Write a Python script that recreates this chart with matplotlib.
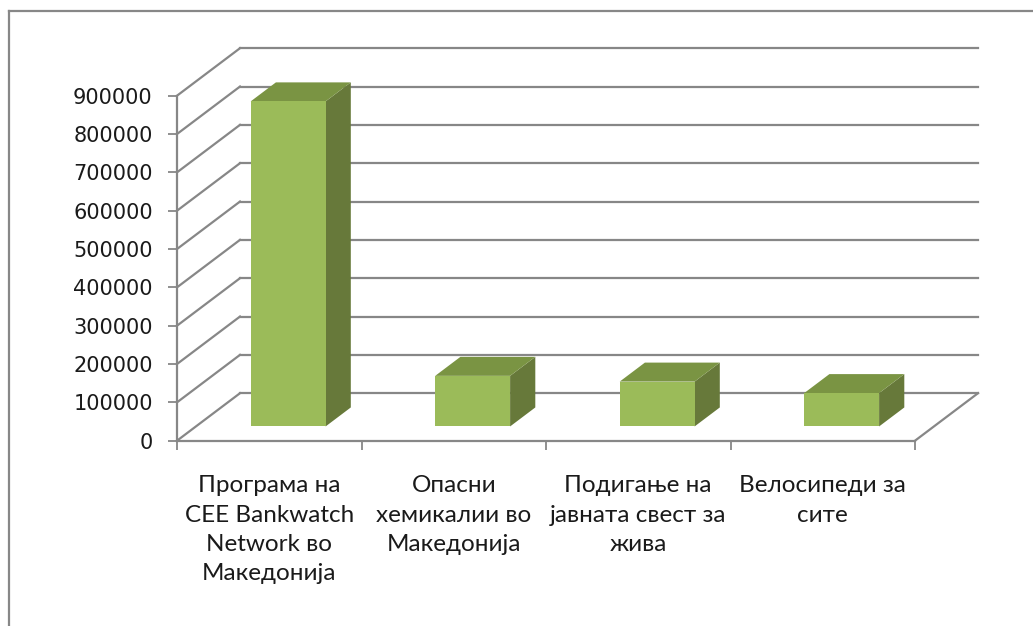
import matplotlib
matplotlib.use("Agg")
import matplotlib.pyplot as plt
from matplotlib.patches import Polygon
from matplotlib.lines import Line2D

# ---- data ----
categories = [
    "Програма на\nCEE Bankwatch\nNetwork во\nМакедонија",
    "Опасни\nхемикалии во\nМакедонија",
    "Подигање на\nјавната свест за\nжива",
    "Велосипеди за\nсите",
]
values = [848000, 132000, 117000, 87000]
yticks = [0, 100000, 200000, 300000, 400000, 500000, 600000, 700000, 800000, 900000]
ytick_labels = [str(v) for v in yticks]

# ---- style ----
W, H = 1033, 626
DPI = 100
grid_col = "#878787"
front_col = "#9bbb59"
side_col = "#67793a"
top_col = "#7a9443"

fig = plt.figure(figsize=(W / DPI, H / DPI), dpi=DPI)
fig.patch.set_facecolor("white")

# axes: front plane of the 3D box
ax = fig.add_axes([177 / W, (H - 440.7) / H, 738 / W, 345 / H])
n = len(categories)
ax.set_xlim(0, n)
ax.set_ylim(0, yticks[-1])
ax.set_facecolor("none")
for s in ax.spines.values():
    s.set_visible(False)

# depth offsets (oblique projection) in data units
ddx = 63 / 184.5
ddy = 47.5 / (345 / 9) * 100000

lw = 1.6
# back wall gridlines and diagonals on side wall
for v in yticks:
    ax.add_line(Line2D([0, ddx], [v, v + ddy], color=grid_col, lw=lw, clip_on=False, zorder=1))
    ax.add_line(Line2D([ddx, n + ddx], [v + ddy, v + ddy], color=grid_col, lw=lw, clip_on=False, zorder=1))
# floor
ax.add_line(Line2D([n, n + ddx], [0, ddy], color=grid_col, lw=lw, clip_on=False, zorder=1))
ax.add_line(Line2D([0, n], [0, 0], color=grid_col, lw=lw, clip_on=False, zorder=2))
# front vertical axis
ax.add_line(Line2D([0, 0], [0, yticks[-1]], color=grid_col, lw=lw, clip_on=False, zorder=2))

# bars
w = 0.406
f0, d = 0.3, 0.4
for i, v in enumerate(values):
    xl = i + 0.5 - w / 2 + f0 * ddx
    xr = xl + w
    b = f0 * ddy
    ox, oy = d * ddx, d * ddy
    front = Polygon([(xl, b), (xr, b), (xr, b + v), (xl, b + v)], closed=True,
                    facecolor=front_col, edgecolor="none", clip_on=False, zorder=5)
    side = Polygon([(xr, b), (xr + ox, b + oy), (xr + ox, b + oy + v), (xr, b + v)], closed=True,
                   facecolor=side_col, edgecolor="none", clip_on=False, zorder=4)
    top = Polygon([(xl, b + v), (xr, b + v), (xr + ox, b + v + oy), (xl + ox, b + v + oy)], closed=True,
                  facecolor=top_col, edgecolor="none", clip_on=False, zorder=4)
    for p in (side, top, front):
        ax.add_patch(p)

# y ticks
ax.set_yticks(yticks)
ax.set_yticklabels(ytick_labels, family="DejaVu Sans", fontsize=15, color="#1a1a1a")
ax.tick_params(axis="y", length=6.5, width=1.3, color=grid_col, pad=11)

# x ticks: major boundaries, minor centers with labels
ax.set_xticks(list(range(n + 1)))
ax.set_xticklabels([])
ax.tick_params(axis="x", which="major", length=6.5, width=1.3, color=grid_col)
ax.set_xticks([i + 0.5 for i in range(n)], minor=True)
ax.set_xticklabels(categories, minor=True, family="Lato", fontsize=17.5, color="#1a1a1a",
                   linespacing=1.48)
ax.tick_params(axis="x", which="minor", length=0, pad=25)

# chart border (left and top)
fig.add_artist(Line2D([9 / W, 9 / W], [0, (H - 11) / H], color=grid_col, lw=1.6,
                      transform=fig.transFigure))
fig.add_artist(Line2D([9 / W, 1], [(H - 11) / H, (H - 11) / H], color=grid_col, lw=1.6,
                      transform=fig.transFigure))

fig.savefig("out.png", dpi=DPI, facecolor="white")
